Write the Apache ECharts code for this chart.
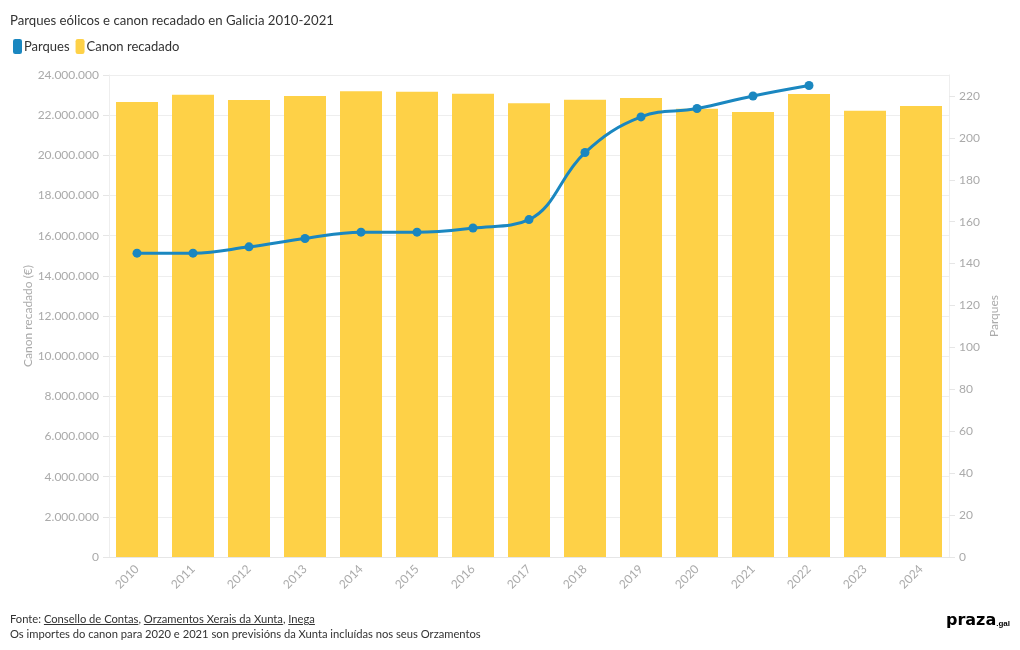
<!DOCTYPE html>
<html><head><meta charset="utf-8">
<script src="https://cdn.jsdelivr.net/npm/echarts@6/dist/echarts.min.js"></script>
<style>
html,body{margin:0;padding:0;background:#fff;}
#c{width:1020px;height:650px;}
#foot{position:absolute;left:10px;top:611px;font-family:Lato,"Open Sans",sans-serif;font-size:11.2px;color:#333;line-height:15px;}
#foot u{text-decoration:underline;}
</style>
</head><body>
<div id="c"></div>
<div id="foot">Fonte: <u>Consello de Contas</u>, <u>Orzamentos Xerais da Xunta</u>, <u>Inega</u><br>Os importes do canon para 2020 e 2021 son previsións da Xunta incluídas nos seus Orzamentos</div>
<script>
const categories = ['2010','2011','2012','2013','2014','2015','2016','2017','2018','2019','2020','2021','2022','2023','2024'];
const canon = [22660000,23020000,22760000,22950000,23190000,23170000,23070000,22590000,22770000,22860000,22320000,22160000,23050000,22220000,22460000];
const parques = [145,145,148,152,155,155,157,161,193,210,214,220,225,null,null];
const leftTicks = {max:24000000, interval:2000000};
const rightTicks = {max:230, interval:20};

const chart = echarts.init(document.getElementById('c'));
const fmt = v => String(v).replace(/\B(?=(\d{3})+(?!\d))/g,'.');
const ff = 'Lato, "Open Sans", sans-serif';
chart.setOption({
  animation:false,
  textStyle:{fontFamily:ff},
  title:{text:'Parques eólicos e canon recadado en Galicia 2010-2021',left:5,top:9,textStyle:{fontSize:13.2,fontWeight:'normal',color:'#333',fontFamily:ff}},
  legend:{left:8,top:34,itemWidth:9,itemHeight:15,itemGap:6,
    textStyle:{fontSize:13,color:'#333',padding:[0,0,0,-3]},
    data:[{name:'Parques',icon:'roundRect',itemStyle:{color:'#1a87c0'}},{name:'Canon recadado',icon:'roundRect',itemStyle:{color:'#fed147'}}]},
  grid:{left:109,right:71,top:75,bottom:93},
  xAxis:{type:'category',data:categories,
    axisLine:{lineStyle:{color:'#e6e6e6'}},axisTick:{show:false},
    axisLabel:{rotate:45,color:'#aaa',fontSize:12,margin:10}},
  yAxis:[
    {type:'value',min:0,max:leftTicks.max,interval:leftTicks.interval,name:'Canon recadado (€)',nameLocation:'middle',nameGap:82,nameMoveOverlap:false,
     nameTextStyle:{color:'#aaa',fontSize:12,padding:[0,0,-7,0]},
     axisLine:{show:true,lineStyle:{color:'#eeeeee'}},axisTick:{show:true,length:6,lineStyle:{color:'#e6e6e6'}},
     axisLabel:{color:'#aaa',fontSize:12,formatter:fmt,margin:10},
     splitLine:{lineStyle:{color:'#eeeeee'}}},
    {type:'value',min:0,max:rightTicks.max,interval:rightTicks.interval,name:'Parques',nameLocation:'middle',nameGap:44,nameMoveOverlap:false,
     nameTextStyle:{color:'#aaa',fontSize:12,padding:[-5,0,0,0]},
     axisLine:{show:true,lineStyle:{color:'#eeeeee'}},axisTick:{show:true,length:6,lineStyle:{color:'#e6e6e6'}},
     axisLabel:{color:'#aaa',fontSize:12,showMaxLabel:false,margin:10},
     splitLine:{show:false}}
  ],
  series:[
    {name:'Canon recadado',type:'bar',yAxisIndex:0,data:canon,barWidth:'75%',itemStyle:{color:'#fed147'},z:1},
    {name:'Parques',type:'line',yAxisIndex:1,data:parques,smooth:0.4,symbol:'circle',symbolSize:9,
     lineStyle:{color:'#1a87c0',width:3},itemStyle:{color:'#1a87c0'},z:3}
  ],
  graphic:[
    {type:'text',right:10,top:613,style:{text:'{a|praza}{b|.gal}',rich:{a:{fontSize:16,fontWeight:'bold',fontFamily:'"DejaVu Sans"',color:'#333'},b:{fontSize:8,fontWeight:'bold',color:'#333',padding:[6,0,0,0]}}}}
  ]
});
</script>
</body></html>
